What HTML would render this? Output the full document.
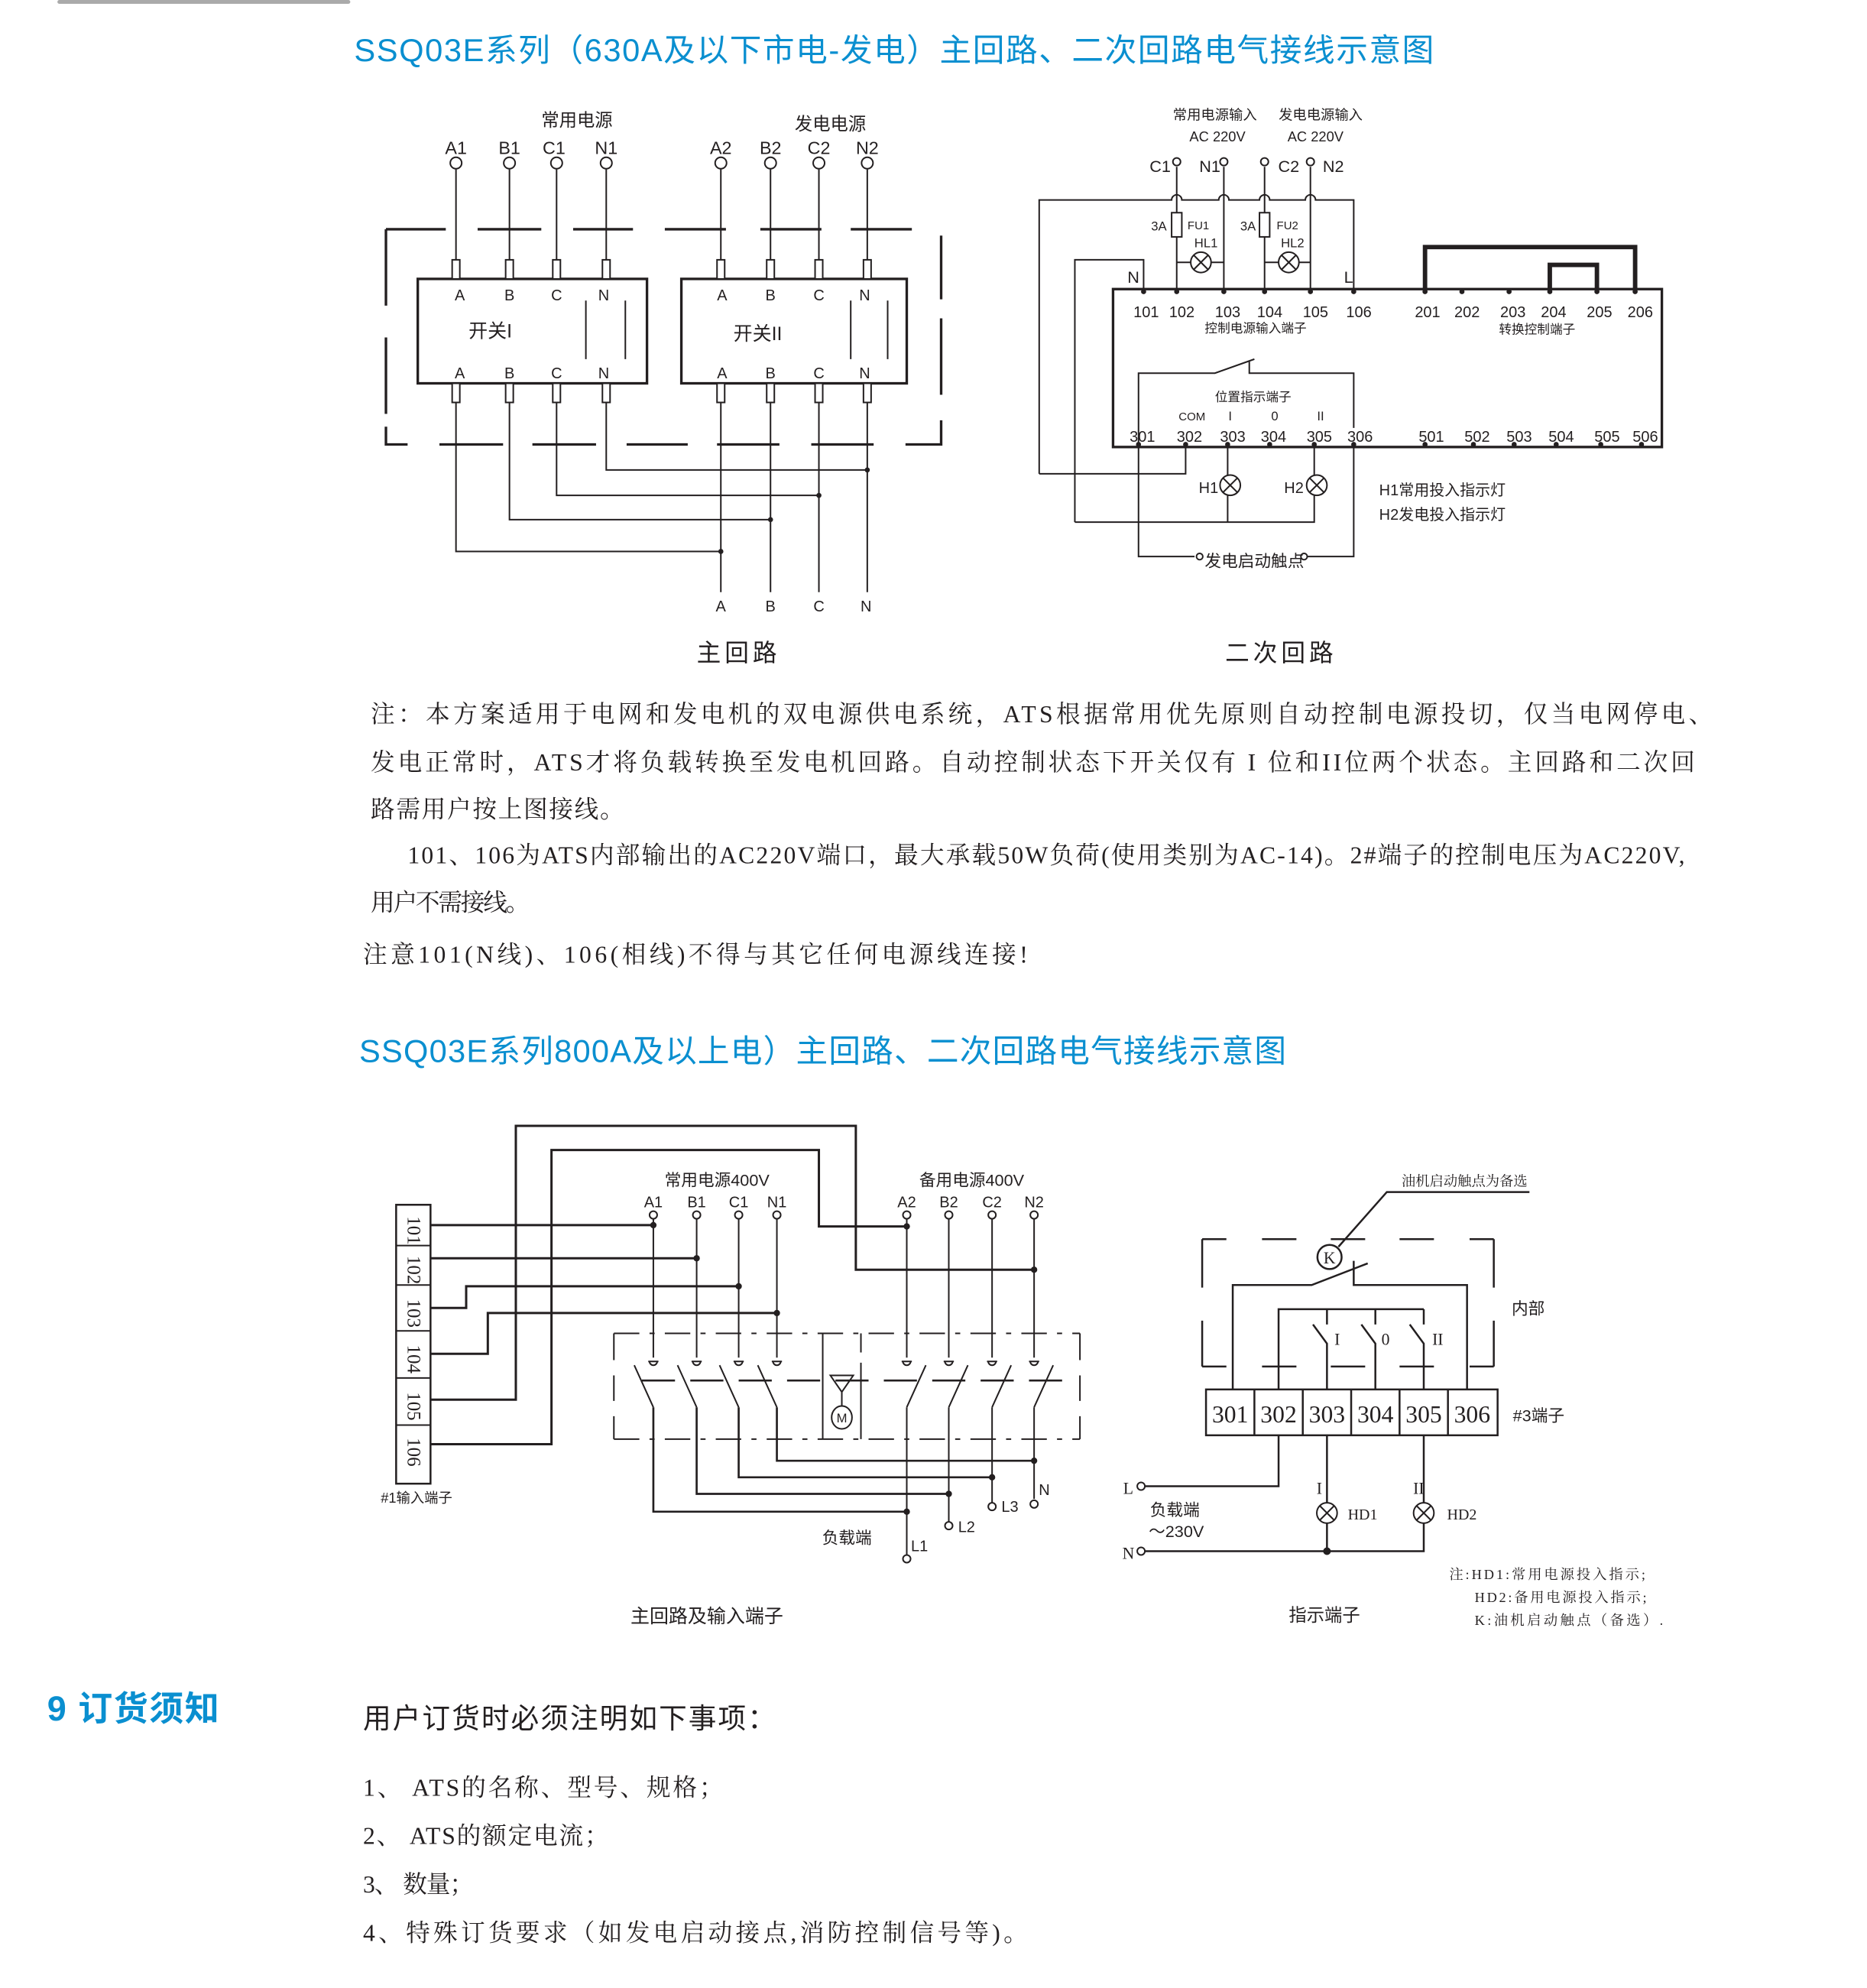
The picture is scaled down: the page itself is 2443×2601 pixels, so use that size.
<!DOCTYPE html>
<html><head><meta charset="utf-8"><style>
html,body{margin:0;padding:0;background:#fff}
svg{display:block}
text{font-family:"Liberation Sans","Noto Sans CJK SC",sans-serif;fill:#231f20}
.sr{font-family:"Liberation Serif","Noto Serif CJK SC",serif}
.b{fill:#0a8fd0}
</style></head><body>
<svg width="2443" height="2601" viewBox="0 0 1466 1561" xmlns="http://www.w3.org/2000/svg">
<rect x="45" y="0" width="230" height="3" rx="1.5" fill="#aaa"/>
<text x="278" y="48" font-size="25" class="b" textLength="848">SSQ03E系列（630A及以下市电-发电）主回路、二次回路电气接线示意图</text>

<!-- ===== TOP MAIN CIRCUIT ===== -->
<g stroke="#231f20" fill="none" stroke-width="1.2">
<path d="M358 133V204M400 133V204M437 133V204M476 133V204M566 133V204M605 133V204M643 133V204M681 133V204"/>
<g fill="#fff"><circle cx="358" cy="128" r="4.5"/><circle cx="400" cy="128" r="4.5"/><circle cx="437" cy="128" r="4.5"/><circle cx="476" cy="128" r="4.5"/><circle cx="566" cy="128" r="4.5"/><circle cx="605" cy="128" r="4.5"/><circle cx="643" cy="128" r="4.5"/><circle cx="681" cy="128" r="4.5"/></g>
<g stroke-width="2"><path d="M303 180H350M375 180H425M450 180H497M522 180H570M597 180H645M668 180H716"/>
<path d="M303 180V240M303 265V325M303 335V349H320M345 349H395M418 349H468M492 349H540M563 349H612M637 349H686M711 349H739V330M739 310V250M739 235V185"/></g>
<rect x="328" y="219" width="180" height="82" stroke-width="2"/>
<rect x="535" y="219" width="177" height="82" stroke-width="2"/>
<path d="M460 236V282M491 236V282M668 236V282M697 236V282"/>
<g fill="#fff"><rect x="355" y="204" width="6" height="15"/><rect x="397" y="204" width="6" height="15"/><rect x="434" y="204" width="6" height="15"/><rect x="473" y="204" width="6" height="15"/>
<rect x="563" y="204" width="6" height="15"/><rect x="602" y="204" width="6" height="15"/><rect x="640" y="204" width="6" height="15"/><rect x="678" y="204" width="6" height="15"/>
<rect x="355" y="301" width="6" height="15"/><rect x="397" y="301" width="6" height="15"/><rect x="434" y="301" width="6" height="15"/><rect x="473" y="301" width="6" height="15"/>
<rect x="563" y="301" width="6" height="15"/><rect x="602" y="301" width="6" height="15"/><rect x="640" y="301" width="6" height="15"/><rect x="678" y="301" width="6" height="15"/></g>
<path d="M358 316V433H566M400 316V408H605M437 316V389H643M476 316V369H681"/>
<path d="M566 316V465M605 316V465M643 316V465M681 316V465"/>
</g>
<g fill="#231f20"><circle cx="566" cy="433" r="2"/><circle cx="605" cy="408" r="2"/><circle cx="643" cy="389" r="2"/><circle cx="681" cy="369" r="2"/></g>
<g font-size="14" text-anchor="middle">
<text x="453" y="99">常用电源</text><text x="652" y="102">发电电源</text>
<text x="358" y="121">A1</text><text x="400" y="121">B1</text><text x="435" y="121">C1</text><text x="476" y="121">N1</text>
<text x="566" y="121">A2</text><text x="605" y="121">B2</text><text x="643" y="121">C2</text><text x="681" y="121">N2</text>
<g font-size="12"><text x="361" y="236">A</text><text x="400" y="236">B</text><text x="437" y="236">C</text><text x="474" y="236">N</text>
<text x="567" y="236">A</text><text x="605" y="236">B</text><text x="643" y="236">C</text><text x="679" y="236">N</text>
<text x="361" y="297">A</text><text x="400" y="297">B</text><text x="437" y="297">C</text><text x="474" y="297">N</text>
<text x="567" y="297">A</text><text x="605" y="297">B</text><text x="643" y="297">C</text><text x="679" y="297">N</text>
<text x="566" y="480">A</text><text x="605" y="480">B</text><text x="643" y="480">C</text><text x="680" y="480">N</text></g>
<text x="385" y="265" font-size="15">开关I</text><text x="595" y="267" font-size="15">开关II</text>
<text x="580" y="519" font-size="19" letter-spacing="3">主回路</text><text x="1006" y="519" font-size="19" letter-spacing="3">二次回路</text>
</g>

<!-- ===== SECONDARY ===== -->
<g stroke="#231f20" fill="none" stroke-width="1.2">
<rect x="874" y="227" width="431" height="124" stroke-width="2"/>
<path d="M816 372V157H920a4 4 0 0 1 8 0H957a4 4 0 0 1 8 0H989a4 4 0 0 1 8 0H1025a4 4 0 0 1 8 0H1063V227"/>
<path d="M816 372H931V351"/>
<path d="M924 131V227M961 131V227M993 131V227M1029 131V227"/>
<g fill="#fff"><circle cx="924" cy="127" r="3"/><circle cx="961" cy="127" r="3"/><circle cx="993" cy="127" r="3"/><circle cx="1029" cy="127" r="3"/></g>
<rect x="920" y="167" width="8" height="19" fill="#fff"/><rect x="989" y="167" width="8" height="19" fill="#fff"/>
<path d="M924 206H961M993 206H1029"/>
<g fill="#fff"><circle cx="943" cy="206" r="8"/><circle cx="1012" cy="206" r="8"/></g>
<path d="M937.3 200.3l11.4 11.4M948.7 200.3l-11.4 11.4M1006.3 200.3l11.4 11.4M1017.7 200.3l-11.4 11.4"/>
<path d="M844 410V204H898V227M844 410H1032V351M964 351V410"/>
<g fill="#fff"><circle cx="966" cy="381" r="8"/><circle cx="1034" cy="381" r="8"/></g>
<path d="M960.3 375.3l11.4 11.4M971.7 375.3l-11.4 11.4M1028.3 375.3l11.4 11.4M1039.7 375.3l-11.4 11.4"/>
<path d="M894 351V437H938M1026 437H1063V351"/>
<circle cx="942" cy="437" r="2.5"/><circle cx="1024" cy="437" r="2.5"/>
<path d="M894 351V293H954L985 282M981 284V293H1063V336"/>
<path d="M1119 227V194H1284V227M1217 227V208H1254V227" stroke-width="3.5"/>
</g>
<g fill="#231f20">
<circle cx="898" cy="229" r="2"/><circle cx="924" cy="229" r="2"/><circle cx="961" cy="229" r="2"/><circle cx="993" cy="229" r="2"/><circle cx="1029" cy="229" r="2"/><circle cx="1063" cy="229" r="2"/>
<circle cx="1119" cy="229" r="2"/><circle cx="1148" cy="229" r="2"/><circle cx="1185" cy="229" r="2"/><circle cx="1217" cy="229" r="2"/><circle cx="1254" cy="229" r="2"/><circle cx="1284" cy="229" r="2"/>
<circle cx="894" cy="349" r="2"/><circle cx="931" cy="349" r="2"/><circle cx="964" cy="349" r="2"/><circle cx="997" cy="349" r="2"/><circle cx="1032" cy="349" r="2"/><circle cx="1063" cy="349" r="2"/>
<circle cx="1119" cy="349" r="2"/><circle cx="1157" cy="349" r="2"/><circle cx="1189" cy="349" r="2"/><circle cx="1222" cy="349" r="2"/><circle cx="1257" cy="349" r="2"/><circle cx="1289" cy="349" r="2"/>
</g>
<g font-size="12" text-anchor="middle">
<text x="954" y="94" font-size="11">常用电源输入</text><text x="956" y="111" font-size="11">AC 220V</text>
<text x="1037" y="94" font-size="11">发电电源输入</text><text x="1033" y="111" font-size="11">AC 220V</text>
<text x="911" y="135" font-size="13">C1</text><text x="950" y="135" font-size="13">N1</text><text x="1012" y="135" font-size="13">C2</text><text x="1047" y="135" font-size="13">N2</text>
<text x="910" y="181" font-size="10">3A</text><text x="941" y="180" font-size="9">FU1</text><text x="980" y="181" font-size="10">3A</text><text x="1011" y="180" font-size="9">FU2</text>
<text x="947" y="194" font-size="10">HL1</text><text x="1015" y="194" font-size="10">HL2</text>
<text x="890" y="222" font-size="13">N</text><text x="1059" y="222" font-size="13">L</text>
<text x="900" y="249">101</text><text x="928" y="249">102</text><text x="964" y="249">103</text><text x="997" y="249">104</text><text x="1033" y="249">105</text><text x="1067" y="249">106</text>
<text x="1121" y="249">201</text><text x="1152" y="249">202</text><text x="1188" y="249">203</text><text x="1220" y="249">204</text><text x="1256" y="249">205</text><text x="1288" y="249">206</text>
<text x="986" y="261" font-size="10">控制电源输入端子</text><text x="1207" y="262" font-size="10">转换控制端子</text>
<text x="984" y="315" font-size="10">位置指示端子</text>
<text x="936" y="330" font-size="9">COM</text><text x="966" y="330" font-size="10">I</text><text x="1001" y="330" font-size="10">0</text><text x="1037" y="330" font-size="10">II</text>
<text x="897" y="347">301</text><text x="934" y="347">302</text><text x="968" y="347">303</text><text x="1000" y="347">304</text><text x="1036" y="347">305</text><text x="1068" y="347">306</text>
<text x="1124" y="347">501</text><text x="1160" y="347">502</text><text x="1193" y="347">503</text><text x="1226" y="347">504</text><text x="1262" y="347">505</text><text x="1292" y="347">506</text>
<text x="949" y="387" font-size="12">H1</text><text x="1016" y="387" font-size="12">H2</text>
<text x="985" y="445" font-size="13">发电启动触点</text>
</g>
<text x="1083" y="389" font-size="12">H1常用投入指示灯</text><text x="1083" y="408" font-size="12">H2发电投入指示灯</text>

<!-- ===== NOTES ===== -->
<g class="sr" font-size="19">
<text class="sr" x="291" y="567" textLength="1054">注：本方案适用于电网和发电机的双电源供电系统，ATS根据常用优先原则自动控制电源投切，仅当电网停电、</text>
<text class="sr" x="291" y="605" textLength="1040">发电正常时，ATS才将负载转换至发电机回路。自动控制状态下开关仅有 I 位和II位两个状态。主回路和二次回</text>
<text class="sr" x="291" y="642" textLength="199">路需用户按上图接线。</text>
<text class="sr" x="320" y="678" textLength="1003">101、106为ATS内部输出的AC220V端口，最大承载50W负荷(使用类别为AC-14)。2#端子的控制电压为AC220V,</text>
<text class="sr" x="291" y="715" textLength="125">用户不需接线。</text>
<text class="sr" x="285" y="756" textLength="522">注意101(N线)、106(相线)不得与其它任何电源线连接!</text>
</g>

<text x="282" y="834" font-size="25" class="b" textLength="728">SSQ03E系列800A及以上电）主回路、二次回路电气接线示意图</text>

<!-- ===== BOTTOM MAIN ===== -->
<g stroke="#231f20" fill="none" stroke-width="1.2">
<rect x="311" y="946" width="27" height="219" stroke-width="1.5"/>
<path d="M311 978H338M311 1009H338M311 1045H338M311 1082H338M311 1119H338"/>
<g stroke-width="1.8">
<path d="M338 962H513M338 988H547M338 1027H366V1010H580M338 1063H383V1031H610"/>
<path d="M338 1099H405V884H672V997H812M338 1134H433V903H643V963H712"/>
</g>
<path d="M513 957V1066M547 957V1066M580 957V1066M610 957V1066M712 957V1066M745 957V1066M779 957V1066M812 957V1066"/>
<g fill="#fff"><circle cx="513" cy="954" r="3"/><circle cx="547" cy="954" r="3"/><circle cx="580" cy="954" r="3"/><circle cx="610" cy="954" r="3"/><circle cx="712" cy="954" r="3"/><circle cx="745" cy="954" r="3"/><circle cx="779" cy="954" r="3"/><circle cx="812" cy="954" r="3"/></g>
<path d="M482 1047H848M482 1130H848" stroke-dasharray="20 8 4 8"/>
<path d="M482 1047V1068M482 1080V1100M482 1112V1130M848 1047V1068M848 1080V1100M848 1112V1130"/>
<path d="M646 1047V1130M676 1047V1062M676 1070V1130" />
<g>
<path d="M509 1069h8M543 1069h8M576 1069h8M606 1069h8M708 1069h8M741 1069h8M775 1069h8M808 1069h8"/>
<path d="M510 1069a3 3 0 0 0 6 0M544 1069a3 3 0 0 0 6 0M577 1069a3 3 0 0 0 6 0M607 1069a3 3 0 0 0 6 0M709 1069a3 3 0 0 0 6 0M742 1069a3 3 0 0 0 6 0M776 1069a3 3 0 0 0 6 0M809 1069a3 3 0 0 0 6 0"/>
<path d="M498 1072L513 1105M532 1072L547 1105M565 1072L580 1105M595 1072L610 1105M727 1072L712 1105M760 1072L745 1105M794 1072L779 1105M827 1072L812 1105"/>
<path d="M504 1084H834" stroke-width="1.6" stroke-dasharray="26 12"/>
<path d="M652 1080H670L661 1093ZM661 1093V1104"/>
<ellipse cx="661" cy="1113" rx="8" ry="9"/>
</g>
<path d="M513 1105V1187H712M547 1105V1173H745M580 1105V1160H779M610 1105V1147H812" stroke-width="1.6"/>
<path d="M712 1105V1221M745 1105V1195M779 1105V1180M812 1105V1177"/>
<g fill="#fff"><circle cx="712" cy="1224" r="3"/><circle cx="745" cy="1198" r="3"/><circle cx="779" cy="1183" r="3"/><circle cx="812" cy="1181" r="3"/></g>
</g>
<g fill="#231f20"><circle cx="513" cy="962" r="2.5"/><circle cx="547" cy="988" r="2.5"/><circle cx="580" cy="1010" r="2.5"/><circle cx="610" cy="1031" r="2.5"/><circle cx="712" cy="963" r="2.5"/><circle cx="812" cy="997" r="2.5"/>
<circle cx="712" cy="1187" r="2.5"/><circle cx="745" cy="1173" r="2.5"/><circle cx="779" cy="1160" r="2.5"/><circle cx="812" cy="1147" r="2.5"/></g>
<g class="sr" font-size="15">
<text class="sr" transform="translate(320,955) rotate(90)">101</text><text class="sr" transform="translate(320,986) rotate(90)">102</text>
<text class="sr" transform="translate(320,1020) rotate(90)">103</text><text class="sr" transform="translate(320,1056) rotate(90)">104</text>
<text class="sr" transform="translate(320,1093) rotate(90)">105</text><text class="sr" transform="translate(320,1129) rotate(90)">106</text>
</g>
<g font-size="12" text-anchor="middle">
<text x="563" y="931" font-size="13">常用电源400V</text><text x="763" y="931" font-size="13">备用电源400V</text>
<text x="513" y="948">A1</text><text x="547" y="948">B1</text><text x="580" y="948">C1</text><text x="610" y="948">N1</text>
<text x="712" y="948">A2</text><text x="745" y="948">B2</text><text x="779" y="948">C2</text><text x="812" y="948">N2</text>
<text x="661" y="1117" font-size="10">M</text>
<text x="327" y="1180" font-size="11">#1输入端子</text>
<text x="665" y="1212" font-size="13">负载端</text>
<text x="722" y="1218">L1</text><text x="759" y="1203">L2</text><text x="793" y="1187">L3</text><text x="820" y="1174">N</text>
<text x="555" y="1274" font-size="15">主回路及输入端子</text>
</g>

<!-- ===== INDICATION ===== -->
<g stroke="#231f20" fill="none" stroke-width="1.2">
<path d="M944 973V1011M944 1037V1073M1173 973V1011M1173 1037V1073" stroke-width="1.5"/>
<path d="M944 973H963M991 973H1018M1045 973H1072M1099 973H1126M1154 973H1173M944 1073H963M991 1073H1018M1045 1073H1072M1099 1073H1126M1154 1073H1173" stroke-width="1.5"/>
<circle cx="1044" cy="987" r="9.5" stroke-width="1.5"/>
<path d="M1051 979L1089 936H1201" stroke-width="1.5"/>
<path d="M968 1091V1009H1030L1074 992M1063 990V1009H1152V1091" stroke-width="1.5"/>
<path d="M1004 1091V1028H1118M1042 1028V1040M1080 1028V1040M1118 1028V1040M1031 1040L1042 1055V1091M1069 1040L1080 1055V1091M1107 1040L1118 1055V1091" stroke-width="1.5"/>
<rect x="947" y="1091" width="229" height="36" stroke-width="1.5"/>
<path d="M985 1091V1127M1023 1091V1127M1061 1091V1127M1099 1091V1127M1137 1091V1127" stroke-width="1.5"/>
<path d="M1004 1127V1167H899M1042 1127V1218M1118 1127V1218H899" stroke-width="1.5"/>
<circle cx="896" cy="1167" r="3" fill="#fff"/><circle cx="896" cy="1218" r="3" fill="#fff"/>
<g fill="#fff"><circle cx="1042" cy="1188" r="8"/><circle cx="1118" cy="1188" r="8"/></g>
<path d="M1036.3 1182.3l11.4 11.4M1047.7 1182.3l-11.4 11.4M1112.3 1182.3l11.4 11.4M1123.7 1182.3l-11.4 11.4"/>
</g>
<circle cx="1042" cy="1218" r="3" fill="#231f20"/>
<g class="sr" font-size="19" text-anchor="middle">
<text class="sr" x="966" y="1117">301</text><text class="sr" x="1004" y="1117">302</text><text class="sr" x="1042" y="1117">303</text><text class="sr" x="1080" y="1117">304</text><text class="sr" x="1118" y="1117">305</text><text class="sr" x="1156" y="1117">306</text>
<text class="sr" x="1044" y="992" font-size="13">K</text>
<text class="sr" x="1050" y="1056" font-size="13">I</text><text class="sr" x="1088" y="1056" font-size="13">0</text><text class="sr" x="1129" y="1056" font-size="13">II</text>
<text class="sr" x="886" y="1173" font-size="13">L</text><text class="sr" x="886" y="1224" font-size="13">N</text>
<text class="sr" x="1036" y="1173" font-size="13">I</text><text class="sr" x="1114" y="1173" font-size="13">II</text>
<text class="sr" x="1070" y="1193" font-size="12">HD1</text><text class="sr" x="1148" y="1193" font-size="12">HD2</text>
<text class="sr" x="1150" y="931" font-size="11">油机启动触点为备选</text>
</g>
<g font-size="13">
<text x="1187" y="1032">内部</text><text x="1188" y="1116">#3端子</text>
<text x="903" y="1190">负载端</text><text x="902" y="1207">～230V</text>
<text x="1012" y="1273" font-size="14">指示端子</text>
</g>
<g class="sr" font-size="11">
<text class="sr" x="1138" y="1240" textLength="154">注:HD1:常用电源投入指示;</text>
<text class="sr" x="1158" y="1258" textLength="135">HD2:备用电源投入指示;</text>
<text class="sr" x="1158" y="1276" textLength="148">K:油机启动触点（备选）.</text>
</g>

<!-- ===== ORDERING ===== -->
<text x="37" y="1351" font-size="27" font-weight="bold" class="b" textLength="135">9 订货须知</text>
<text x="285" y="1357" font-size="22" textLength="324">用户订货时必须注明如下事项：</text>
<g class="sr" font-size="19">
<text class="sr" x="285" y="1410" textLength="283">1、 ATS的名称、型号、规格；</text>
<text class="sr" x="285" y="1448" textLength="193">2、 ATS的额定电流；</text>
<text class="sr" x="285" y="1486" textLength="87">3、 数量；</text>
<text class="sr" x="285" y="1524" textLength="522">4、特殊订货要求（如发电启动接点,消防控制信号等)。</text>
</g>
</svg>
</body></html>
